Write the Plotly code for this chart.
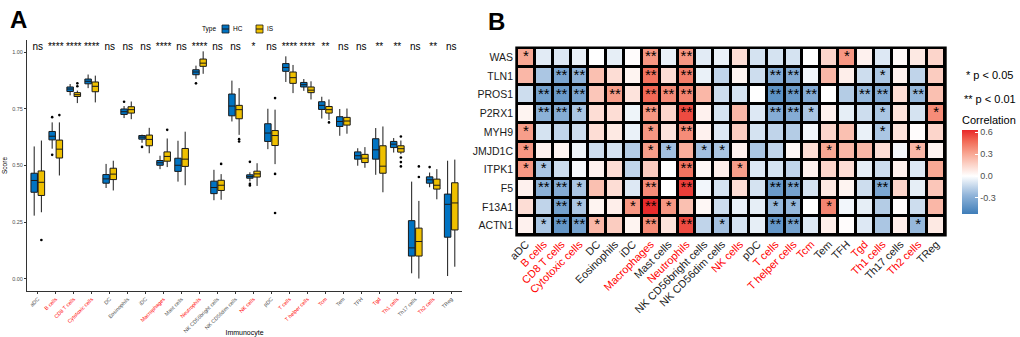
import plotly.graph_objects as go

FONT = "Liberation Sans"

cells = ["aDC", "B cells", "CD8 T cells", "Cytotoxic cells", "DC", "Eosinophils", "iDC",
         "Macrophages", "Mast cells", "Neutrophils", "NK CD56bright cells", "NK CD56dim cells",
         "NK cells", "pDC", "T cells", "T helper cells", "Tcm", "Tem", "TFH", "Tgd",
         "Th1 cells", "Th17 cells", "Th2 cells", "TReg"]
red_cells = ["B cells", "CD8 T cells", "Cytotoxic cells", "Macrophages", "Neutrophils", "NK cells",
             "T cells", "T helper cells", "Tcm", "Tgd", "Th1 cells", "Th2 cells"]
sig_labels = ["ns", "****", "****", "****", "ns", "ns", "ns", "****", "ns", "****", "ns", "ns",
              "*", "ns", "****", "****", "**", "ns", "ns", "**", "**", "ns", "**", "ns"]

# ---- Panel A box statistics (HC / IS) ----
hc_lower = [0.279, 0.574, 0.809, 0.841, 0.401, 0.709, 0.600, 0.484, 0.429, 0.882, 0.347, 0.694,
            0.430, 0.572, 0.868, 0.829, 0.707, 0.631, 0.499, 0.459, 0.557, 0.025, 0.404, 0.013]
hc_q1 = [0.382, 0.613, 0.826, 0.860, 0.422, 0.725, 0.616, 0.501, 0.474, 0.900, 0.376, 0.719,
         0.444, 0.606, 0.915, 0.846, 0.747, 0.672, 0.528, 0.528, 0.579, 0.101, 0.422, 0.184]
hc_median = [0.434, 0.629, 0.837, 0.871, 0.441, 0.737, 0.625, 0.512, 0.501, 0.912, 0.403, 0.762,
             0.451, 0.643, 0.932, 0.856, 0.765, 0.694, 0.543, 0.569, 0.594, 0.137, 0.437, 0.329]
hc_q3 = [0.466, 0.650, 0.846, 0.881, 0.460, 0.749, 0.632, 0.522, 0.532, 0.922, 0.431, 0.815,
         0.459, 0.684, 0.949, 0.866, 0.781, 0.715, 0.560, 0.618, 0.606, 0.257, 0.450, 0.374]
hc_upper = [0.584, 0.690, 0.859, 0.901, 0.507, 0.762, 0.636, 0.543, 0.609, 0.940, 0.481, 0.874,
            0.470, 0.750, 0.981, 0.881, 0.803, 0.749, 0.576, 0.665, 0.621, 0.429, 0.469, 0.521]
hc_outliers = [[], [0.713, 0.547], [], [], [], [0.781], [0.582], [], [], [0.862], [], [],
               [0.516, 0.419, 0.412], [], [], [], [], [], [], [], [], [], [0.493], []]

is_lower = [0.294, 0.456, 0.775, 0.778, 0.390, 0.704, 0.554, 0.493, 0.413, 0.904, 0.349, 0.635,
            0.410, 0.506, 0.819, 0.791, 0.701, 0.640, 0.490, 0.382, 0.550, 0.002, 0.351, 0.054]
is_q1 = [0.368, 0.533, 0.804, 0.825, 0.438, 0.731, 0.587, 0.519, 0.496, 0.937, 0.390, 0.706,
         0.449, 0.588, 0.862, 0.821, 0.731, 0.678, 0.513, 0.466, 0.559, 0.101, 0.396, 0.216]
is_median = [0.426, 0.572, 0.812, 0.849, 0.462, 0.746, 0.615, 0.540, 0.528, 0.951, 0.413, 0.746,
             0.463, 0.632, 0.887, 0.832, 0.746, 0.696, 0.532, 0.497, 0.574, 0.165, 0.413, 0.335]
is_q3 = [0.476, 0.612, 0.821, 0.868, 0.488, 0.759, 0.634, 0.560, 0.575, 0.969, 0.435, 0.765,
         0.475, 0.654, 0.912, 0.846, 0.760, 0.712, 0.549, 0.587, 0.587, 0.224, 0.440, 0.424]
is_upper = [0.610, 0.690, 0.830, 0.896, 0.521, 0.782, 0.666, 0.619, 0.649, 1.003, 0.462, 0.841,
            0.510, 0.746, 0.943, 0.871, 0.791, 0.751, 0.581, 0.672, 0.610, 0.344, 0.484, 0.526]
is_outliers = [[0.172], [0.722], [0.862, 0.849], [], [], [], [], [0.657], [], [], [0.507],
               [0.616, 0.606], [], [0.797, 0.463, 0.291], [], [], [0.690], [], [], [],
               [0.628, 0.535, 0.515, 0.496], [0.496, 0.449], [], []]

# ---- Panel B correlation heatmap ----
genes = ["WAS", "TLN1", "PROS1", "P2RX1", "MYH9", "JMJD1C", "ITPK1", "F5", "F13A1", "ACTN1"]
corr = [
    [0.30, -0.07, -0.08, -0.05, 0.00, -0.06, 0.01, 0.35, -0.05, 0.35, -0.07, -0.05, 0.12, -0.10, -0.10, -0.10, 0.00, 0.15, 0.35, 0.05, -0.08, 0.02, 0.08, 0.15],
    [0.25, -0.20, -0.33, -0.27, 0.22, 0.12, 0.04, 0.45, 0.12, 0.42, -0.05, -0.15, 0.04, -0.12, -0.30, -0.30, -0.03, 0.25, 0.06, -0.12, -0.20, 0.05, -0.15, 0.18],
    [-0.12, -0.35, -0.38, -0.33, 0.20, 0.33, 0.10, 0.48, 0.38, 0.40, 0.25, -0.12, -0.10, 0.00, -0.42, -0.38, -0.30, 0.00, -0.18, -0.25, -0.30, 0.12, -0.25, 0.22],
    [0.04, -0.28, -0.30, -0.20, 0.12, 0.12, -0.04, 0.35, 0.15, 0.55, 0.05, -0.10, 0.25, -0.08, -0.30, -0.30, -0.20, 0.05, -0.06, -0.12, -0.20, 0.10, -0.10, 0.38],
    [0.33, -0.10, -0.15, -0.12, 0.12, 0.08, -0.05, 0.35, 0.10, 0.38, 0.05, -0.08, 0.18, -0.10, -0.15, -0.18, -0.03, 0.15, 0.22, -0.05, -0.20, 0.10, 0.01, 0.15],
    [0.35, 0.05, 0.04, -0.04, -0.12, -0.10, -0.18, 0.33, -0.22, 0.28, -0.22, -0.20, 0.05, -0.20, -0.15, 0.03, 0.12, 0.30, 0.25, 0.25, 0.12, -0.03, 0.25, 0.04],
    [0.35, -0.20, -0.12, -0.02, 0.05, 0.12, -0.15, 0.18, 0.00, 0.45, 0.03, 0.06, 0.33, -0.08, -0.10, -0.15, 0.05, 0.15, 0.12, -0.06, -0.12, 0.05, -0.08, 0.30],
    [0.05, -0.28, -0.30, -0.20, 0.22, 0.12, -0.08, 0.38, 0.00, 0.58, -0.03, -0.10, 0.12, -0.10, -0.38, -0.35, -0.10, 0.08, 0.04, -0.12, -0.33, 0.15, -0.06, 0.20],
    [0.12, -0.15, -0.35, -0.20, 0.04, 0.06, 0.35, 0.62, 0.35, 0.22, 0.03, -0.12, -0.05, -0.06, -0.25, -0.25, 0.00, 0.40, -0.03, -0.06, -0.18, 0.01, -0.12, 0.25],
    [0.05, -0.20, -0.40, -0.35, 0.25, 0.18, 0.04, 0.38, 0.10, 0.55, -0.15, -0.22, -0.10, -0.06, -0.40, -0.35, -0.08, 0.06, 0.01, -0.08, -0.20, 0.06, -0.25, 0.08],
]
sig_rows = [
    "* . . . . . . ** . ** . . . . . . . . * . . . . .",
    ". . ** ** . . . ** . ** . . . . ** ** . . . . * . . .",
    ". ** ** ** . ** . ** ** ** . . . . ** ** ** . . ** ** . ** .",
    ". ** ** * . . . ** . ** . . . . ** ** * . . . * . . *",
    "* . . . . . . * . ** . . . . . . . . . . * . . .",
    "* . . . . . . * * . * * . . . . . * . . . . * .",
    "* * . . . . . . . ** . . * . . . . . . . . . . .",
    ". ** ** * . . . ** . ** . . . . ** ** . . . . ** . . .",
    ". . ** * . . * ** * . . . . . * * . * . . . . . .",
    ". * ** ** * . . ** . ** . * . . ** ** . . . . . . * .",
]
corr_ticks = [0.6, 0.3, 0.0, -0.3]
corr_min, corr_max = -0.52, 0.63

HC_COL, IS_COL = "#0073C2", "#EFC000"
OFF = 0.2
W, H = 1020, 337


def colored(lbl):
    if lbl in red_cells:
        return f'<span style="color:#FF0000">{lbl}</span>'
    return lbl


fig = go.Figure()
idx = list(range(len(cells)))

for name, col, sign, lo, q1, md, q3, up, outl in [
    ("HC", HC_COL, -1, hc_lower, hc_q1, hc_median, hc_q3, hc_upper, hc_outliers),
    ("IS", IS_COL, 1, is_lower, is_q1, is_median, is_q3, is_upper, is_outliers),
]:
    xs = [i + sign * OFF for i in idx]
    fig.add_trace(go.Box(
        x=xs, q1=q1, median=md, q3=q3, lowerfence=lo, upperfence=up,
        name=name, fillcolor=col, line=dict(color="#1a1a1a", width=1),
        width=0.36, whiskerwidth=0, boxpoints=False, xaxis="x", yaxis="y",
        showlegend=False, hoverinfo="skip"))
    ox, oy = [], []
    for i, vals in enumerate(outl):
        for v in vals:
            ox.append(i + sign * OFF)
            oy.append(v)
    fig.add_trace(go.Scatter(
        x=ox, y=oy, mode="markers", marker=dict(color="black", size=2.6),
        xaxis="x", yaxis="y", showlegend=False, hoverinfo="skip"))

fig.add_trace(go.Scatter(
    x=idx, y=[1.018] * len(idx), text=sig_labels, mode="text",
    textfont=dict(family=FONT, size=10, color="black"),
    xaxis="x", yaxis="y", showlegend=False, cliponaxis=False, hoverinfo="skip"))

# heatmap
zero_pos = (0 - corr_min) / (corr_max - corr_min)
cscale = [
    [0.0, "#3E7DB8"],
    [zero_pos * 0.5, "#92B5DA"],
    [zero_pos, "#FFFFFF"],
    [zero_pos + (1 - zero_pos) * 0.25, "#FCD3C8"],
    [zero_pos + (1 - zero_pos) * 0.5, "#F8A38F"],
    [zero_pos + (1 - zero_pos) * 0.75, "#F26C58"],
    [1.0, "#E8282A"],
]
fig.add_trace(go.Heatmap(
    z=corr, x=cells, y=genes, zmin=corr_min, zmax=corr_max, colorscale=cscale,
    xgap=3, ygap=3, xaxis="x2", yaxis="y2", hoverinfo="skip",
    colorbar=dict(
        x=962 / W, xanchor="left", y=1 - 113 / H, yanchor="top",
        len=101, lenmode="pixels", thickness=16, thicknessmode="pixels",
        xpad=0, ypad=0, outlinewidth=0,
        tickvals=corr_ticks, ticktext=[f"{t:.1f}" for t in corr_ticks],
        ticks="inside", tickcolor="white", ticklen=3,
        tickfont=dict(family=FONT, size=9, color="#4d4d4d"),
        title=dict(text="Correlation", side="top", font=dict(family=FONT, size=11, color="black")),
    )))

sx, sy, st = [], [], []
for g, row in zip(genes, sig_rows):
    for c, tok in zip(cells, row.split()):
        if tok != ".":
            sx.append(c)
            sy.append(g)
            st.append(tok)
fig.add_trace(go.Scatter(
    x=sx, y=sy, text=st, mode="text", textposition="middle center",
    textfont=dict(family=FONT, size=15, color="black"),
    xaxis="x2", yaxis="y2", showlegend=False, hoverinfo="skip"))

# manual legend for panel A (Type: HC / IS)
leg_y0, leg_y1 = 1 - 33 / H, 1 - 25 / H
leg_shapes = []
for (lx0, lx1), col in [((222, 229), HC_COL), ((256, 263), IS_COL)]:
    leg_shapes.append(dict(type="rect", xref="paper", yref="paper", x0=lx0 / W, x1=lx1 / W,
                           y0=leg_y0, y1=leg_y1, fillcolor=col,
                           line=dict(color="#1a1a1a", width=0.8)))
    leg_shapes.append(dict(type="line", xref="paper", yref="paper", x0=lx0 / W, x1=lx1 / W,
                           y0=(leg_y0 + leg_y1) / 2, y1=(leg_y0 + leg_y1) / 2,
                           line=dict(color="#1a1a1a", width=1)))

fig.update_layout(
    template="none",
    width=W, height=H, margin=dict(l=0, r=0, t=0, b=0, autoexpand=False),
    paper_bgcolor="white", plot_bgcolor="white", showlegend=False,
    font=dict(family=FONT, color="black"),
    xaxis=dict(domain=[27 / W, 462 / W], range=[-0.6, 23.6], showgrid=False, zeroline=False,
               anchor="y", automargin=False,
               showline=True, linecolor="#333333", linewidth=1, ticks="outside", ticklen=2,
               tickcolor="#333333", tickmode="array", tickvals=idx,
               ticktext=[colored(c) for c in cells], tickangle=-45,
               tickfont=dict(family=FONT, size=5.3, color="#4d4d4d"),
               title=dict(text="Immunocyte", font=dict(family=FONT, size=7, color="black"),
                          standoff=0)),
    yaxis=dict(domain=[(H - 291) / H, (H - 40) / H], range=[-0.053, 1.053], showgrid=False,
               anchor="x", automargin=False,
               zeroline=False, showline=True, linecolor="#333333", linewidth=1,
               ticks="outside", ticklen=2, tickcolor="#333333",
               tickvals=[0, 0.25, 0.5, 0.75, 1.0], ticktext=["0.00", "0.25", "0.50", "0.75", "1.00"],
               tickfont=dict(family=FONT, size=5.5, color="#4d4d4d"),
               title=dict(text="Score", font=dict(family=FONT, size=6.5, color="black"),
                          standoff=3)),
    xaxis2=dict(domain=[517 / W, 945 / W], range=[-0.5, 23.5], showgrid=False, zeroline=False,
                showline=False, anchor="y2", automargin=False,
                tickmode="array", tickvals=cells, ticktext=[colored(c) for c in cells],
                tickangle=-45, ticks="", tickfont=dict(family=FONT, size=10.8, color="#1a1a1a")),
    yaxis2=dict(domain=[(H - 235) / H, (H - 48) / H], range=[9.5, -0.5], showgrid=False,
                zeroline=False, anchor="x2", automargin=False,
                showline=False, ticks="", ticklabelstandoff=3,
                tickfont=dict(family=FONT, size=10.5, color="#1a1a1a")),
    shapes=[dict(type="rect", xref="x2 domain", yref="y2 domain", x0=-0.004, x1=1.004,
                 y0=-0.008, y1=1.008, fillcolor="black", line=dict(width=0), layer="below")]
    + leg_shapes,
    annotations=[
        dict(text="<b>A</b>", x=8 / W, y=1 - 4 / H, xref="paper", yref="paper", xanchor="left",
             yanchor="top", showarrow=False, font=dict(family=FONT, size=24, color="black")),
        dict(text="<b>B</b>", x=486 / W, y=1 - 6 / H, xref="paper", yref="paper", xanchor="left",
             yanchor="top", showarrow=False, font=dict(family=FONT, size=24, color="black")),
        dict(text="Type", x=200 / W, y=1 - 29 / H, xref="paper", yref="paper",
             xanchor="left", yanchor="middle", showarrow=False,
             font=dict(family=FONT, size=6.5, color="black")),
        dict(text="HC", x=231 / W, y=1 - 29 / H, xref="paper", yref="paper",
             xanchor="left", yanchor="middle", showarrow=False,
             font=dict(family=FONT, size=6.5, color="black")),
        dict(text="IS", x=265 / W, y=1 - 29 / H, xref="paper", yref="paper",
             xanchor="left", yanchor="middle", showarrow=False,
             font=dict(family=FONT, size=6.5, color="black")),
        dict(text="* p &lt; 0.05", x=964 / W, y=1 - 75 / H, xref="paper", yref="paper",
             xanchor="left", yanchor="middle", showarrow=False,
             font=dict(family=FONT, size=11, color="black")),
        dict(text="** p &lt; 0.01", x=962 / W, y=1 - 99 / H, xref="paper", yref="paper",
             xanchor="left", yanchor="middle", showarrow=False,
             font=dict(family=FONT, size=11, color="black")),
    ],
)

fig.write_html("out.html", config={"displayModeBar": False},
               post_script="document.body.style.margin='0';")
